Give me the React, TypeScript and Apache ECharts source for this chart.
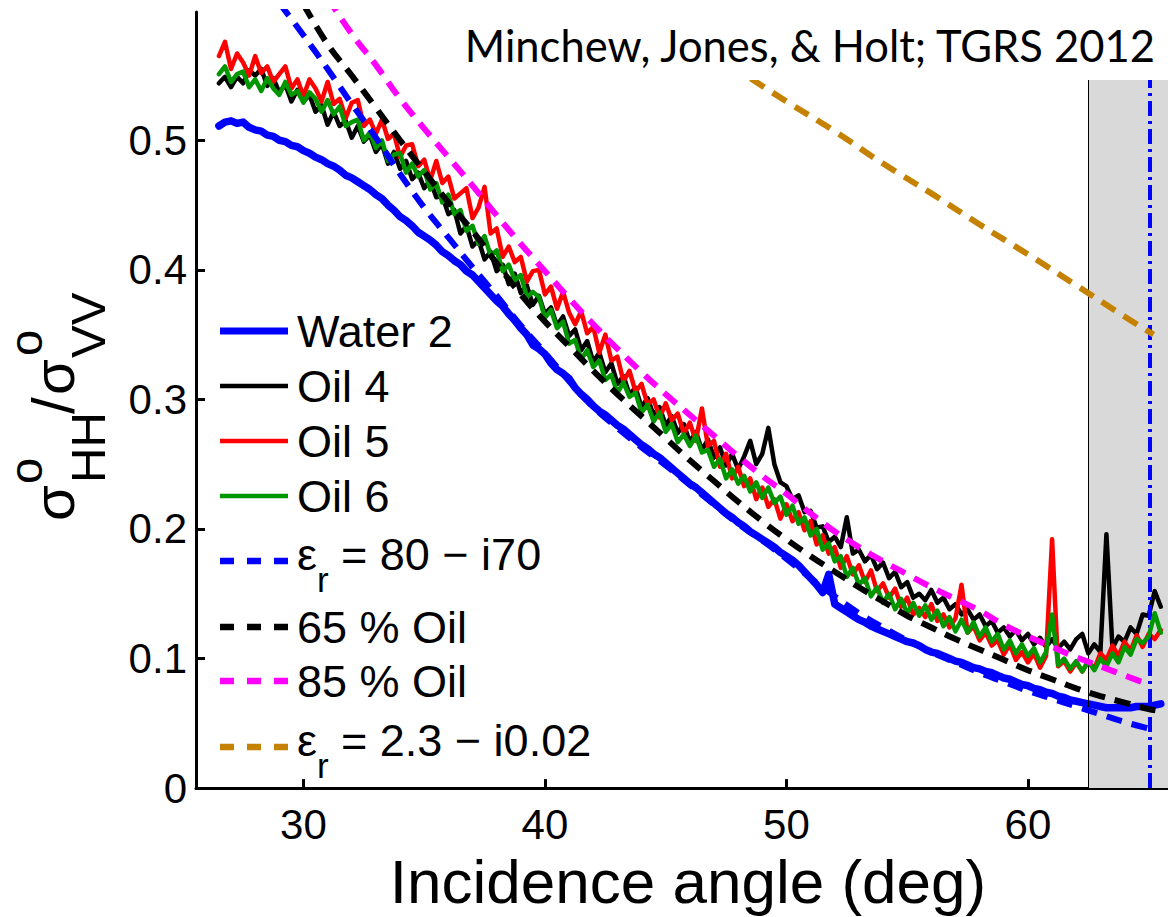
import React, { useEffect, useRef } from "react";
import * as echarts from "echarts";

// ---------------- data ----------------
// measured curves sampled every 0.25 deg starting at 26.5 deg
const MEAS_START = 26.5;
const MEAS_STEP = 0.25;

const WATER_2 = [
  0.511, 0.514,
  0.515, 0.513, 0.514, 0.510,
  0.508, 0.507, 0.504, 0.503,
  0.500, 0.499, 0.496, 0.495,
  0.492, 0.490, 0.487, 0.485,
  0.482, 0.480, 0.477, 0.473,
  0.471, 0.468, 0.465, 0.462,
  0.458, 0.455, 0.450, 0.446,
  0.441, 0.438, 0.434, 0.429,
  0.426, 0.423, 0.419, 0.414,
  0.411, 0.407, 0.404, 0.399,
  0.396, 0.391, 0.386, 0.381,
  0.376, 0.372, 0.366, 0.361,
  0.355, 0.350, 0.342, 0.339,
  0.335, 0.328, 0.323, 0.320,
  0.316, 0.309, 0.304, 0.300,
  0.295, 0.291, 0.288, 0.284,
  0.280, 0.277, 0.273, 0.269,
  0.265, 0.262, 0.258, 0.255,
  0.251, 0.247, 0.243, 0.239,
  0.235, 0.232, 0.228, 0.224,
  0.220, 0.216, 0.212, 0.209,
  0.205, 0.202, 0.198, 0.195,
  0.192, 0.189, 0.186, 0.182,
  0.179, 0.176, 0.172, 0.167,
  0.162, 0.157, 0.151, 0.165,
  0.142, 0.139, 0.136, 0.133,
  0.130, 0.128, 0.125, 0.123,
  0.121, 0.119, 0.117, 0.115,
  0.113, 0.112, 0.110, 0.107,
  0.105, 0.104, 0.102, 0.100,
  0.098, 0.097, 0.095, 0.093,
  0.092, 0.090, 0.089, 0.087,
  0.085, 0.084, 0.082, 0.080,
  0.079, 0.077, 0.076, 0.074,
  0.073, 0.071, 0.070, 0.068,
  0.067, 0.066, 0.065, 0.064,
  0.063, 0.062, 0.062, 0.062,
  0.062, 0.062, 0.063, 0.063,
  0.063, 0.064, 0.065,
];

const OIL_4 = [
  0.544, 0.549,
  0.541, 0.549, 0.544, 0.554,
  0.550, 0.555, 0.542, 0.548,
  0.537, 0.543, 0.530, 0.539,
  0.530, 0.535, 0.522, 0.527,
  0.512, 0.522, 0.511, 0.515,
  0.502, 0.511, 0.499, 0.504,
  0.491, 0.497, 0.482, 0.491,
  0.478, 0.484, 0.470, 0.475,
  0.463, 0.469, 0.456, 0.457,
  0.443, 0.446, 0.428, 0.434,
  0.418, 0.423, 0.408, 0.414,
  0.399, 0.404, 0.389, 0.397,
  0.382, 0.388, 0.373, 0.380,
  0.366, 0.371, 0.357, 0.364,
  0.349, 0.354, 0.338, 0.345,
  0.329, 0.336, 0.321, 0.328,
  0.312, 0.318, 0.304, 0.309,
  0.294, 0.301, 0.288, 0.294,
  0.280, 0.287, 0.274, 0.281,
  0.267, 0.275, 0.261, 0.269,
  0.255, 0.263, 0.249, 0.258,
  0.246, 0.256, 0.268, 0.250,
  0.258, 0.278, 0.250, 0.236,
  0.233, 0.223, 0.226, 0.213,
  0.214, 0.201, 0.202, 0.190,
  0.194, 0.186, 0.209, 0.181,
  0.184, 0.175, 0.180, 0.169,
  0.174, 0.162, 0.167, 0.155,
  0.159, 0.147, 0.150, 0.145,
  0.153, 0.143, 0.147, 0.138,
  0.142, 0.134, 0.138, 0.130,
  0.134, 0.125, 0.129, 0.120,
  0.124, 0.117, 0.122, 0.114,
  0.119, 0.111, 0.116, 0.109,
  0.115, 0.108, 0.113, 0.107,
  0.115, 0.119, 0.104, 0.111,
  0.105, 0.196, 0.108, 0.117,
  0.113, 0.124, 0.119, 0.134,
  0.133, 0.152, 0.140,
];

const OIL_5 = [
  0.565, 0.576,
  0.555, 0.567, 0.560, 0.550,
  0.565, 0.552, 0.557, 0.545,
  0.551, 0.557, 0.540, 0.547,
  0.534, 0.547, 0.540, 0.530,
  0.545, 0.528, 0.532, 0.517,
  0.529, 0.531, 0.511, 0.516,
  0.505, 0.516, 0.501, 0.505,
  0.487, 0.496, 0.497, 0.480,
  0.485, 0.469, 0.484, 0.467,
  0.472, 0.455, 0.459, 0.463,
  0.440, 0.448, 0.464, 0.428,
  0.432, 0.410, 0.418, 0.406,
  0.410, 0.391, 0.399, 0.400,
  0.381, 0.387, 0.370, 0.383,
  0.367, 0.358, 0.368, 0.351,
  0.356, 0.336, 0.350, 0.330,
  0.333, 0.314, 0.322, 0.306,
  0.312, 0.296, 0.300, 0.286,
  0.297, 0.284, 0.289, 0.274,
  0.282, 0.268, 0.293, 0.264,
  0.268, 0.248, 0.258, 0.239,
  0.248, 0.233, 0.239, 0.223,
  0.232, 0.217, 0.223, 0.208,
  0.219, 0.206, 0.213, 0.199,
  0.206, 0.188, 0.195, 0.181,
  0.186, 0.170, 0.179, 0.165,
  0.172, 0.159, 0.168, 0.152,
  0.158, 0.147, 0.154, 0.140,
  0.147, 0.134, 0.139, 0.132,
  0.142, 0.129, 0.134, 0.124,
  0.131, 0.157, 0.120, 0.125,
  0.114, 0.120, 0.110, 0.114,
  0.103, 0.111, 0.099, 0.105,
  0.097, 0.104, 0.093, 0.102,
  0.192, 0.094, 0.098, 0.090,
  0.097, 0.090, 0.098, 0.092,
  0.104, 0.099, 0.110, 0.102,
  0.113, 0.106, 0.118, 0.109,
  0.119, 0.115, 0.122,
];

const OIL_6 = [
  0.551, 0.557,
  0.545, 0.551, 0.553, 0.541,
  0.547, 0.538, 0.548, 0.540,
  0.535, 0.545, 0.535, 0.538,
  0.529, 0.537, 0.532, 0.522,
  0.531, 0.520, 0.526, 0.511,
  0.514, 0.516, 0.500, 0.506,
  0.494, 0.500, 0.484, 0.489,
  0.490, 0.475, 0.482, 0.472,
  0.477, 0.462, 0.467, 0.452,
  0.458, 0.443, 0.446, 0.430,
  0.434, 0.420, 0.426, 0.411,
  0.415, 0.399, 0.404, 0.392,
  0.396, 0.379, 0.383, 0.379,
  0.363, 0.369, 0.355, 0.360,
  0.343, 0.346, 0.331, 0.338,
  0.325, 0.330, 0.315, 0.319,
  0.305, 0.313, 0.302, 0.305,
  0.290, 0.296, 0.283, 0.290,
  0.275, 0.281, 0.267, 0.273,
  0.264, 0.272, 0.259, 0.261,
  0.248, 0.254, 0.239, 0.246,
  0.235, 0.241, 0.229, 0.236,
  0.224, 0.232, 0.220, 0.225,
  0.211, 0.218, 0.204, 0.209,
  0.195, 0.200, 0.184, 0.189,
  0.175, 0.179, 0.163, 0.170,
  0.157, 0.162, 0.148, 0.155,
  0.143, 0.150, 0.138, 0.146,
  0.135, 0.143, 0.133, 0.141,
  0.130, 0.137, 0.125, 0.132,
  0.121, 0.130, 0.120, 0.128,
  0.117, 0.124, 0.113, 0.119,
  0.107, 0.114, 0.104, 0.111,
  0.102, 0.108, 0.097, 0.105,
  0.134, 0.095, 0.100, 0.092,
  0.098, 0.090, 0.098, 0.091,
  0.100, 0.094, 0.104, 0.097,
  0.109, 0.103, 0.115, 0.112,
  0.117, 0.135, 0.120,
];

// model curves
const EPS80_ANGLES = [29, 30, 31, 32, 33, 34, 35, 36, 37, 38, 39, 40, 41, 42, 43, 44, 45, 46, 47, 48, 49, 50, 51, 52, 53, 54, 55, 56, 57, 58, 59, 60, 61, 62, 63, 64, 65];
const EPS80_VALUES = [0.606, 0.581, 0.555, 0.528, 0.502, 0.474, 0.448, 0.425, 0.402, 0.380, 0.357, 0.336, 0.314, 0.294, 0.278, 0.263, 0.249, 0.234, 0.219, 0.204, 0.191, 0.177, 0.162, 0.148, 0.135, 0.124, 0.114, 0.105, 0.097, 0.089, 0.082, 0.075, 0.069, 0.063, 0.057, 0.051, 0.046];

const OIL65_ANGLES = [30, 31, 32, 33, 34, 35, 36, 37, 38, 39, 40, 41, 42, 43, 44, 45, 46, 47, 48, 49, 50, 51, 52, 53, 54, 55, 56, 57, 58, 59, 60, 61, 62, 63, 64, 65, 65.3];
const OIL65_VALUES = [0.605, 0.574, 0.550, 0.525, 0.500, 0.476, 0.452, 0.430, 0.405, 0.381, 0.360, 0.341, 0.322, 0.304, 0.287, 0.270, 0.253, 0.237, 0.221, 0.206, 0.192, 0.179, 0.167, 0.155, 0.144, 0.133, 0.124, 0.115, 0.107, 0.099, 0.091, 0.084, 0.077, 0.071, 0.066, 0.061, 0.060];

const OIL85_ANGLES = [31, 32, 33, 34, 35, 36, 37, 38, 39, 40, 41, 42, 43, 44, 45, 46, 47, 48, 49, 50, 51, 52, 53, 54, 55, 56, 57, 58, 59, 60, 61, 62, 63, 64, 65];
const OIL85_VALUES = [0.610, 0.582, 0.558, 0.532, 0.509, 0.487, 0.465, 0.442, 0.420, 0.399, 0.378, 0.358, 0.339, 0.321, 0.304, 0.288, 0.272, 0.256, 0.241, 0.227, 0.212, 0.198, 0.186, 0.175, 0.165, 0.155, 0.146, 0.137, 0.126, 0.117, 0.109, 0.101, 0.094, 0.087, 0.080];

const EPS23_ANGLES = [44, 46, 48, 50, 52, 54, 56, 58, 60, 62, 64, 65.2];
const EPS23_VALUES = [0.602, 0.578, 0.554, 0.530, 0.507, 0.482, 0.459, 0.435, 0.412, 0.388, 0.364, 0.350];

const X_TICKS = [30, 40, 50, 60];
const Y_TICKS = [0, 0.1, 0.2, 0.3, 0.4, 0.5];
const X_MIN = 25.55;
const X_MAX = 65.8;
const Y_MIN = 0;
const Y_MAX = 0.599;
const SHADE_FROM = 62.5;
const CUTOFF_ANGLE = 65.03;

const TITLE = "Minchew, Jones, & Holt; TGRS 2012";
const X_NAME = "Incidence angle (deg)";

// ---------------- styles ----------------
const FONT = '"Liberation Sans", Arial, Helvetica, sans-serif';
const BLUE = "#0000ff";
const RED = "#ff0000";
const GREEN = "#009600";
const MAGENTA = "#ff00ff";
const ORANGE = "#c48200";
const DASH = [16, 10];

type LegendItem = { label: string | string[]; color: string; width: number; dash: number[] | null; y: number };
const LEGEND: LegendItem[] = [
  { label: "Water 2", color: BLUE, width: 7, dash: null, y: 331 },
  { label: "Oil 4", color: "#000", width: 4.5, dash: null, y: 386 },
  { label: "Oil 5", color: RED, width: 4.5, dash: null, y: 441 },
  { label: "Oil 6", color: GREEN, width: 4.5, dash: null, y: 496 },
  { label: ["ε", "r", "= 80 − i70"], color: BLUE, width: 6.5, dash: [14, 13], y: 561 },
  { label: "65 % Oil", color: "#000", width: 6.5, dash: [14, 13], y: 627 },
  { label: "85 % Oil", color: MAGENTA, width: 6.5, dash: [14, 13], y: 681 },
  { label: ["ε", "r", "= 2.3 − i0.02"], color: ORANGE, width: 6.5, dash: [14, 13], y: 747 },
];

const zip = (xs: number[], ys: number[]) => ys.map((y, i) => [xs[i], y]);

function txt(text: string, x: number, y: number, size: number, align = "left", family = FONT) {
  return {
    type: "text",
    x,
    y,
    z: 100,
    silent: true,
    style: {
      text,
      font: `${size}px ${family}`,
      fill: "#000",
      align,
      verticalAlign: "middle",
      textAlign: align,
      textVerticalAlign: "middle",
    },
  };
}

function buildLegend() {
  const els: any[] = [];
  LEGEND.forEach((it) => {
    els.push({
      type: "line",
      z: 100,
      silent: true,
      shape: { x1: 220, y1: it.y, x2: 288, y2: it.y },
      style: { stroke: it.color, lineWidth: it.width, lineDash: it.dash || undefined, lineCap: "butt" },
    });
    if (Array.isArray(it.label)) {
      els.push(txt(it.label[0], 297, it.y - 7, 45));
      els.push(txt(it.label[1], 317, it.y + 18, 35));
      els.push(txt(it.label[2], 341, it.y - 7, 45));
    } else {
      els.push(txt(it.label, 297, it.y, 45));
    }
  });
  return els;
}

function buildYName() {
  const parts = [
    { t: "σ", x: 0, y: -20, s: 58 },
    { t: "o", x: 37, y: -48, s: 47 },
    { t: "HH", x: 38, y: 15, s: 49 },
    { t: "/", x: 107, y: -20, s: 60 },
    { t: "σ", x: 126, y: -20, s: 58 },
    { t: "o", x: 165, y: -48, s: 47 },
    { t: "VV", x: 163, y: 15, s: 49 },
  ];
  return {
    type: "group",
    x: 73,
    y: 521,
    rotation: Math.PI / 2,
    z: 100,
    children: parts.map((p) => txt(p.t, p.x, p.y, p.s)),
  };
}

function dataLine(name: string, ys: number[], color: string, width: number, z: number) {
  const xs = ys.map((_, i) => MEAS_START + i * MEAS_STEP);
  return {
    type: "line",
    name,
    data: zip(xs, ys),
    symbol: "none",
    showSymbol: false,
    z,
    silent: true,
    emphasis: { disabled: true },
    lineStyle: { color, width, join: "round", cap: "round" },
  };
}

function modelLine(name: string, xs: number[], ys: number[], color: string, z: number) {
  return {
    type: "line",
    name,
    data: zip(xs, ys),
    symbol: "none",
    showSymbol: false,
    smooth: 0.4,
    z,
    silent: true,
    emphasis: { disabled: true },
    lineStyle: { color, width: 6, type: DASH, cap: "butt" },
  };
}

export default function App() {
  const ref = useRef<HTMLDivElement>(null);
  useEffect(() => {
    if (!ref.current) return;
    const chart = echarts.init(ref.current, null, { renderer: "svg" });
    const option: any = {
      animation: false,
      backgroundColor: "#ffffff",
      grid: { left: 196, right: 0, top: 12, bottom: 117, containLabel: false },
      xAxis: {
        type: "value",
        min: X_MIN,
        max: X_MAX,
        axisLine: { show: true, onZero: false, lineStyle: { color: "#000", width: 3 } },
        axisTick: { show: true, inside: true, length: 9, lineStyle: { color: "#000", width: 3 }, customValues: X_TICKS },
        axisLabel: { customValues: X_TICKS, color: "#000", fontSize: 42, fontFamily: FONT, margin: 15 },
        splitLine: { show: false },
        name: X_NAME,
        nameLocation: "middle",
        nameGap: 47,
        nameTextStyle: { fontSize: 62, fontFamily: FONT, color: "#000", padding: [0, 0, 0, 12] },
      },
      yAxis: {
        type: "value",
        min: Y_MIN,
        max: Y_MAX,
        axisLine: { show: true, onZero: false, lineStyle: { color: "#000", width: 3 } },
        axisTick: { show: true, inside: true, length: 9, lineStyle: { color: "#000", width: 3 }, customValues: Y_TICKS },
        axisLabel: {
          customValues: Y_TICKS,
          color: "#000",
          fontSize: 42,
          fontFamily: FONT,
          margin: 9,
          formatter: (v: number) => (v === 0 ? "0" : v.toFixed(1)),
        },
        splitLine: { show: false },
      },
      series: [
        {
          type: "line",
          name: "shade",
          data: [],
          z: 1,
          silent: true,
          markArea: {
            silent: true,
            itemStyle: { color: "#d9d9d9" },
            data: [[{ xAxis: SHADE_FROM, yAxis: Y_MIN }, { xAxis: X_MAX, yAxis: Y_MAX }]],
          },
          markLine: {
            silent: true,
            symbol: ["none", "none"],
            label: { show: false },
            lineStyle: { color: "#000", width: 1, type: "solid" },
            data: [{ xAxis: SHADE_FROM }],
          },
        },
        dataLine("Water 2", WATER_2, BLUE, 7.5, 2),
        dataLine("Oil 4", OIL_4, "#000", 4.5, 3),
        dataLine("Oil 5", OIL_5, RED, 4.5, 4),
        dataLine("Oil 6", OIL_6, GREEN, 4.5, 5),
        modelLine("εr = 80 − i70", EPS80_ANGLES, EPS80_VALUES, BLUE, 6),
        modelLine("65 % Oil", OIL65_ANGLES, OIL65_VALUES, "#000", 6),
        modelLine("85 % Oil", OIL85_ANGLES, OIL85_VALUES, MAGENTA, 6),
        modelLine("εr = 2.3 − i0.02", EPS23_ANGLES, EPS23_VALUES, ORANGE, 6),
        {
          type: "line",
          name: "cutoff",
          data: [],
          z: 8,
          silent: true,
          markLine: {
            silent: true,
            symbol: ["none", "none"],
            label: { show: false },
            lineStyle: { color: BLUE, width: 4, type: [15, 5, 3, 5] },
            data: [{ xAxis: CUTOFF_ANGLE }],
          },
        },
      ],
      graphic: [
        {
          type: "rect",
          z: 99,
          silent: true,
          shape: { x: 455, y: 0, width: 713, height: 80 },
          style: { fill: "#ffffff" },
        },
        txt(TITLE, 1155, 45, 43.5, "right", 'Lato, "Open Sans", sans-serif'),
        ...buildLegend(),
        buildYName(),
      ],
    };
    chart.setOption(option);
    return () => chart.dispose();
  }, []);
  return (
    <div
      ref={ref}
      style={{ position: "absolute", left: 0, top: 0, width: 1168, height: 917, background: "#fff" }}
    />
  );
}
